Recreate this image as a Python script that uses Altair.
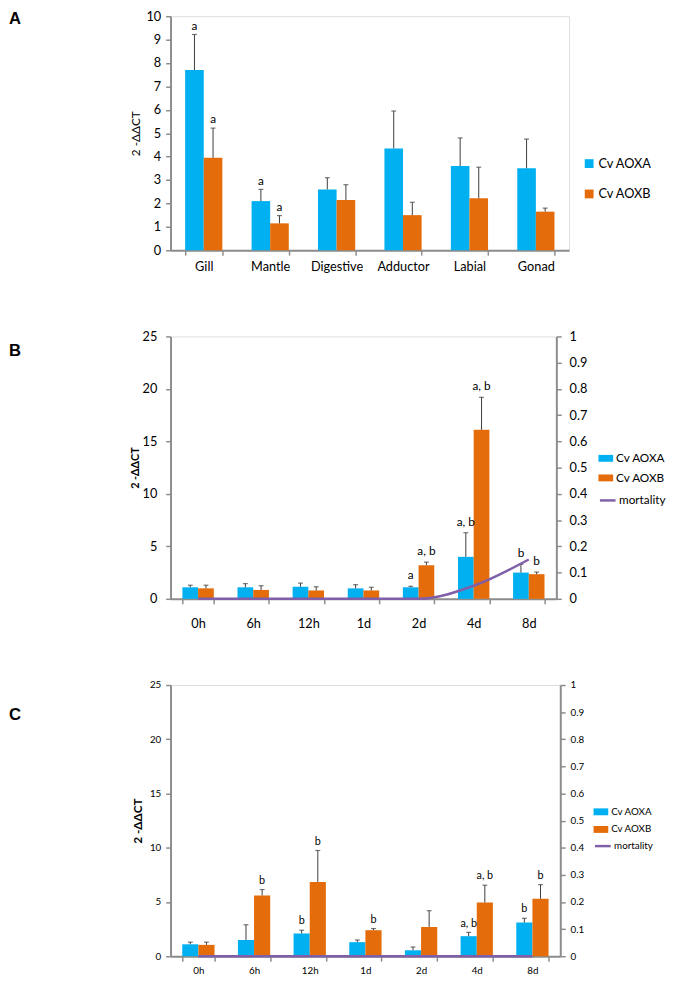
import altair as alt
import pandas as pd

FONT = "Lato"
BLUE = "#00B0F0"
ORANGE = "#E46C0A"
PURPLE = "#7F5FA8"
GRAY = "#8C8C8C"
ERRC = "#3A3A3A"

series = ["Cv AOXA", "Cv AOXB"]
letters = ["A", "B", "C"]

# Panel A
tissues = ["Gill", "Mantle", "Digestive", "Adductor", "Labial", "Gonad"]
a_aoxa = [7.7, 2.1, 2.6, 4.35, 3.6, 3.5]
a_aoxa_err = [9.22, 2.6, 3.1, 5.95, 4.8, 4.75]
a_aoxb = [3.95, 1.15, 2.15, 1.5, 2.22, 1.65]
a_aoxb_err = [5.22, 1.48, 2.8, 2.05, 3.55, 1.8]
a_lab_a = ["a", "a", "", "", "", ""]
a_lab_b = ["a", "a", "", "", "", ""]

# Panel B
times = ["0h", "6h", "12h", "1d", "2d", "4d", "8d"]
b_aoxa = [1.1, 1.1, 1.15, 1.0, 1.1, 4.0, 2.5]
b_aoxa_err = [1.3, 1.45, 1.5, 1.35, 1.2, 6.3, 3.3]
b_aoxb = [1.0, 0.85, 0.8, 0.8, 3.2, 16.1, 2.35]
b_aoxb_err = [1.3, 1.25, 1.15, 1.1, 3.5, 19.2, 2.55]
b_mort = [0, 0, 0, 0, 0, 0.05, 0.15]
b_lab_a = ["", "", "", "", "a", "a, b", "b"]
b_lab_b = ["", "", "", "", "a, b", "a, b", "b"]

# Panel C
c_aoxa = [1.1, 1.5, 2.1, 1.3, 0.55, 1.85, 3.1]
c_aoxa_err = [1.3, 2.9, 2.4, 1.5, 0.85, 2.2, 3.5]
c_aoxb = [1.05, 5.6, 6.85, 2.4, 2.7, 4.95, 5.3]
c_aoxb_err = [1.3, 6.15, 9.75, 2.55, 4.2, 6.55, 6.6]
c_mort = [0, 0, 0, 0, 0, 0, 0]
c_lab_a = ["", "", "b", "", "", "a, b", "b"]
c_lab_b = ["", "b", "b", "b", "", "a, b", "b"]

mort_ticks = [0, 0.1, 0.2, 0.3, 0.4, 0.5, 0.6, 0.7, 0.8, 0.9, 1]


def long_df(cats, a, ae, b, be, la, lb):
    rows = []
    for i, c in enumerate(cats):
        rows.append(dict(cat=c, series=series[0], value=a[i], err=ae[i], label=la[i]))
        rows.append(dict(cat=c, series=series[1], value=b[i], err=be[i], label=lb[i]))
    return pd.DataFrame(rows)


def panel(cats, df, mort, letter, c):
    base = alt.Chart(df)
    xaxis = alt.Axis(title=None, labelAngle=0, tickBand="extent", labelFont=FONT,
                     labelFontSize=c["xfs"], labelColor="black", labelPadding=c["xlp"],
                     tickSize=5, tickColor=GRAY, tickWidth=1.5, domainColor=GRAY,
                     domainWidth=2)
    xenc = alt.X("cat:N", sort=cats,
                 scale=alt.Scale(paddingInner=c["pi"], paddingOuter=c["pi"] / 2),
                 axis=xaxis)
    xoff = alt.XOffset("series:N", sort=series,
                       scale=alt.Scale(paddingInner=0, paddingOuter=0))
    ysc = alt.Scale(domain=[0, c["ymax"]], nice=False)
    yaxis = alt.Axis(title=c["ytitle"], values=c["yvals"], grid=False,
                     labelFont=FONT, labelFontSize=c["yfs"], labelColor="black",
                     labelPadding=c["ylp"], tickSize=5, tickColor=GRAY,
                     tickWidth=1.5, domainColor=GRAY, domainWidth=2,
                     titleFont=FONT, titleFontSize=c["tfs"],
                     titleFontWeight=c["tfw"], titleColor="black",
                     titlePadding=c["tp"])
    bars = base.mark_bar().encode(
        x=xenc, xOffset=xoff,
        y=alt.Y("value:Q", scale=ysc, axis=yaxis),
        color=alt.Color("series:N", sort=series,
                        scale=alt.Scale(domain=series, range=[BLUE, ORANGE]),
                        legend=alt.Legend(orient="none", legendX=c["lx"], legendY=c["ly"],
                                          title=None, symbolType=c["sym"],
                                          symbolSize=c["ss"], symbolStrokeWidth=0,
                                          labelFont=FONT, labelFontSize=c["lfs"],
                                          labelColor="black", labelOffset=3,
                                          rowPadding=c["rp"])),
    )
    rules = base.mark_rule(color=ERRC, strokeWidth=1).encode(
        x=xenc, xOffset=xoff,
        y=alt.Y("value:Q", scale=ysc, axis=yaxis), y2="err:Q")
    caps = base.mark_tick(color=ERRC, size=5, thickness=1.2).encode(
        x=xenc, xOffset=xoff,
        y=alt.Y("err:Q", scale=ysc, axis=yaxis))
    texts = base.mark_text(dy=c["tdy"], font=FONT, fontSize=c["afs"], color="black").encode(
        x=xenc, xOffset=xoff,
        y=alt.Y("err:Q", scale=ysc, axis=yaxis), text="label:N")
    let = alt.Chart(pd.DataFrame({"t": [letter]})).mark_text(
        align="left", baseline="middle", font="Liberation Sans", fontWeight="bold",
        fontSize=17, color="black").encode(
        x=alt.value(-165), y=alt.value(c["lety"]), text="t:N")
    inner = alt.layer(bars, rules, caps, texts, let)
    if mort is None:
        return inner.properties(width=c["w"], height=c["h"])
    mdf = pd.DataFrame({"cat": cats, "mort": mort, "name": ["mortality"] * len(cats)})
    line = alt.Chart(mdf).mark_line(strokeWidth=2.5, interpolate="monotone").encode(
        x=xenc,
        y=alt.Y("mort:Q", scale=alt.Scale(domain=[0, 1], nice=False),
                axis=alt.Axis(orient="right", title=None, values=mort_ticks, format="~g",
                              grid=False, labelFont=FONT, labelFontSize=c["yfs"],
                              labelColor="black", labelPadding=c["rlp"], tickSize=5,
                              tickColor=GRAY, tickWidth=1.5, domainColor=GRAY,
                              domainWidth=2)),
        stroke=alt.Stroke("name:N",
                          scale=alt.Scale(domain=["mortality"], range=[PURPLE]),
                          legend=alt.Legend(orient="none", legendX=c["lx"],
                                            legendY=c["ly2"], title=None,
                                            symbolType="stroke", symbolSize=c["ls"],
                                            symbolStrokeWidth=2.5, labelFont=FONT,
                                            labelFontSize=c["lfs"], labelColor="black",
                                            labelOffset=2)),
    )
    return alt.layer(inner, line).resolve_scale(y="independent").properties(
        width=c["w"], height=c["h"])


rect = "M-1,-0.47L1,-0.47L1,0.47L-1,0.47Z"

cfgA = dict(pi=0.44, xfs=13, xlp=6, ymax=10, yvals=list(range(0, 11)), yfs=13, ylp=5,
            ytitle="2 -ΔΔCT", tfs=12, tfw="normal", tp=4, lx=421, ly=144, sym="square",
            ss=81, lfs=13, rp=17, tdy=-9, afs=12, lety=3, w=407, h=239)
cfgB = dict(pi=0.43, xfs=13, xlp=14, ymax=25, yvals=[0, 5, 10, 15, 20, 25], yfs=13, ylp=9,
            ytitle="2 -ΔΔCT", tfs=11, tfw="bold", tp=2, lx=437, ly=117, sym=rect,
            ss=225, lfs=12, rp=6, tdy=-11, afs=12, lety=15, w=394, h=268, rlp=8,
            ly2=158, ls=256)
cfgC = dict(pi=0.42, xfs=10, xlp=5, ymax=25, yvals=[0, 5, 10, 15, 20, 25], yfs=10, ylp=5,
            ytitle="2 -ΔΔCT", tfs=12, tfw="bold", tp=5, lx=432, ly=122, sym=rect,
            ss=225, lfs=10, rp=5, tdy=-9, afs=11, lety=31, w=398, h=277, rlp=5,
            ly2=155, ls=256)

dfA = long_df(tissues, a_aoxa, a_aoxa_err, a_aoxb, a_aoxb_err, a_lab_a, a_lab_b)
dfB = long_df(times, b_aoxa, b_aoxa_err, b_aoxb, b_aoxb_err, b_lab_a, b_lab_b)
dfC = long_df(times, c_aoxa, c_aoxa_err, c_aoxb, c_aoxb_err, c_lab_a, c_lab_b)

pA = panel(tissues, dfA, None, letters[0], cfgA)
pB = panel(times, dfB, b_mort, letters[1], cfgB)
pC = panel(times, dfC, c_mort, letters[2], cfgC)

chart = alt.vconcat(pA, pB, pC, spacing=88, bounds="flush",
                    padding={"top": -9, "left": 0, "right": 0, "bottom": 0}).resolve_scale(
    x="independent", y="independent", color="independent", stroke="independent",
    xOffset="independent").resolve_legend(color="independent", stroke="independent"
).configure_view(stroke=GRAY, strokeWidth=2).configure(background="white")

chart.save("out.html", embed_options={"renderer": "svg", "actions": False})
